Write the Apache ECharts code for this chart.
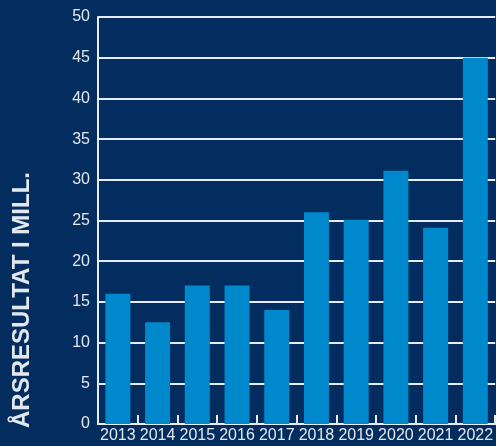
<!DOCTYPE html>
<html>
<head>
<meta charset="utf-8">
<script src="https://cdn.jsdelivr.net/npm/echarts@6/dist/echarts.min.js"></script>
<style>
html,body{margin:0;padding:0;background:#022d5e;}
#c{width:496px;height:446px;}
</style>
</head>
<body>
<div id="c"></div>
<script>
var categories = ['2013','2014','2015','2016','2017','2018','2019','2020','2021','2022'];
var values = [16, 12.5, 17, 17, 14, 26, 25.1, 31.1, 24.1, 45];
var yTitle = 'ÅRSRESULTAT I MILL.';

var labelFont = '"Liberation Sans", Arial';
var chart = echarts.init(document.getElementById('c'));
chart.setOption({
  backgroundColor: '#022d5e',
  animation: false,
  grid: { left: 98, top: 17, width: 400, bottom: 22, containLabel: false },
  xAxis: {
    type: 'category',
    data: categories,
    axisLine: { lineStyle: { color: '#e8ecf2', width: 2 } },
    axisTick: { show: true, inside: true, length: 9, lineStyle: { color: '#e8ecf2', width: 2 } },
    axisLabel: { interval: 0, color: '#e3e8ef', fontSize: 16, fontFamily: labelFont, margin: 4 }
  },
  yAxis: {
    type: 'value',
    min: 0, max: 50, interval: 5,
    axisLine: { show: true, lineStyle: { color: '#e8ecf2', width: 2 } },
    axisTick: { show: false },
    splitLine: { lineStyle: { color: '#e8ecf2', width: 2 } },
    axisLabel: { color: '#e3e8ef', fontSize: 16, fontFamily: labelFont, margin: 8 }
  },
  series: [{
    type: 'bar',
    data: values,
    barWidth: 25,
    itemStyle: { color: '#0088cc' }
  }],
  graphic: [{
    type: 'text',
    x: 22, y: 300,
    rotation: Math.PI / 2,
    style: {
      text: yTitle,
      fill: '#e3e8ef',
      font: 'bold 24px "Liberation Sans", Arial',
      align: 'center',
      verticalAlign: 'middle'
    }
  }]
});
</script>
</body>
</html>
